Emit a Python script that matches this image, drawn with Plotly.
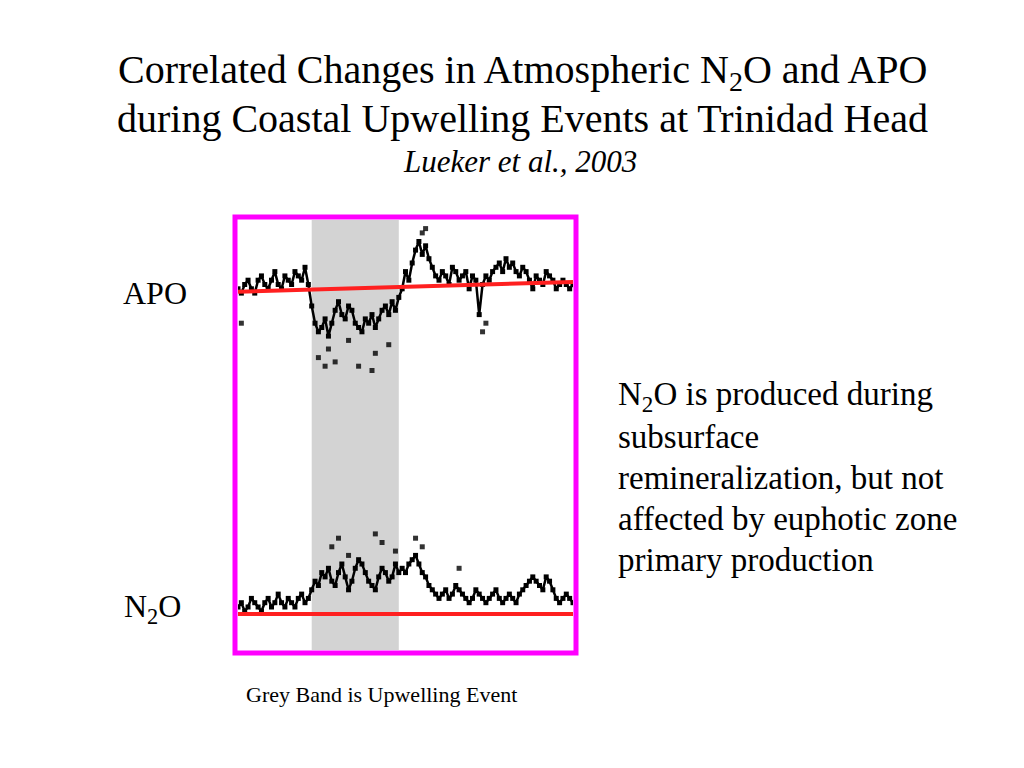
import plotly.graph_objects as go

# time axis (days), 0..100 across the panel
days = list(range(101))

apo = [84, 83, 85, 86, 84, 83, 86, 87, 85, 84, 86, 88, 85, 84, 87, 86, 85, 88, 87, 86, 89, 85,
       80, 76, 74, 75, 77, 73, 76, 79, 81, 78, 77, 80, 79, 76, 75, 74, 77, 76, 78, 75, 77, 79, 80, 78, 81, 79, 82,
       84, 88, 86, 90, 93, 95, 92, 94, 91, 89, 87, 86, 88, 87, 85, 89, 88, 86, 87, 88, 84, 87, 86, 78, 85, 87,
       86, 88, 89, 90, 88, 91, 89, 90, 88, 87, 89, 88, 86, 84, 87, 86, 85, 88, 87, 86, 84, 85, 86, 85, 84, 85]
apo_out_x = [1, 24, 26, 27, 29, 33, 36, 40, 41, 45, 55, 56, 73, 74]
apo_out_y = [76, 68, 66, 70, 67, 72, 66, 65, 69, 71, 97, 98, 74, 76]

n2o = [10, 11, 9, 10, 12, 11, 10, 9, 11, 12, 10, 11, 13, 11, 10, 12, 11, 10, 12, 13, 11, 12,
       14, 16, 15, 18, 17, 19, 16, 15, 18, 20, 17, 14, 16, 19, 21, 20, 18, 16, 15, 14, 17, 19, 18, 16, 17, 20, 18,
       19, 18, 20, 21, 22, 20, 18, 17, 15, 14, 13, 12, 13, 14, 12, 13, 15, 14, 13, 12, 11, 12, 14, 13, 12, 11,
       12, 13, 14, 12, 11, 12, 13, 12, 11, 13, 14, 15, 16, 17, 16, 15, 14, 17, 16, 14, 12, 11, 12, 13, 12, 11]
n2o_out_x = [28, 30, 33, 41, 43, 47, 53, 55, 66]
n2o_out_y = [24, 26, 22, 27, 25, 23, 26, 24, 19]

fit_x = [0, 100]
apo_fit = [83.3, 85.6]
n2o_fit = [8.4, 8.4]
band = [22, 48]

# page has an 8px body margin, so the figure is drawn 8px smaller
OFF = 8
W, H = 1024 - OFF, 768 - OFF
def px(x): return (x - OFF) / W
def py(y): return 1 - (y - OFF) / H

fig = go.Figure()
fig.add_vrect(x0=band[0], x1=band[1], fillcolor="#d3d3d3", line_width=0, layer="below")
for xs, ys, op in [(days, apo, 1), (apo_out_x, apo_out_y, 0.8), (days, n2o, 1), (n2o_out_x, n2o_out_y, 0.8)]:
    fig.add_trace(go.Scatter(x=xs, y=ys, mode="markers" if op < 1 else "lines+markers",
                             line=dict(color="black", width=2.5),
                             marker=dict(color="black", size=5, symbol="square", opacity=op)))
fig.add_trace(go.Scatter(x=fit_x, y=apo_fit, mode="lines", line=dict(color="#ff2020", width=4)))
fig.add_trace(go.Scatter(x=fit_x, y=n2o_fit, mode="lines", line=dict(color="#ff2020", width=4)))

fig.add_shape(type="rect", xref="paper", yref="paper", x0=px(235), x1=px(576), y0=py(653), y1=py(217),
              line=dict(color="#ff00ff", width=5))

serif = "Liberation Serif"
def txt(x, y, s, size, anchor="center", italic=False):
    fig.add_annotation(xref="paper", yref="paper", x=px(x), y=py(y), text=f"<i>{s}</i>" if italic else s,
                       showarrow=False, xanchor=anchor, yanchor="middle",
                       font=dict(family=serif, size=size, color="black"), align="left")

txt(522, 72, "Correlated Changes in Atmospheric N<sub>2</sub>O and APO", 40)
txt(522, 118, "during Coastal Upwelling Events at Trinidad Head", 40)
txt(520, 161, "Lueker et al., 2003", 31, italic=True)
txt(155, 293, "APO", 32)
txt(152, 608, "N<sub>2</sub>O", 32)
for i, line in enumerate(["N<sub>2</sub>O is produced during", "subsurface", "remineralization, but not",
                          "affected by euphotic zone", "primary production"]):
    txt(616, 396 + i * 41, line, 33, anchor="left")
txt(381, 694, "Grey Band is Upwelling Event", 22)

fig.update_layout(width=W, height=H, margin=dict(l=0, r=0, t=0, b=0), showlegend=False,
                  paper_bgcolor="white", plot_bgcolor="white",
                  xaxis=dict(domain=[px(238), px(573)], range=[0, 100], visible=False),
                  yaxis=dict(domain=[py(650), py(220)], range=[0, 100], visible=False))
fig.write_html("out.html")
